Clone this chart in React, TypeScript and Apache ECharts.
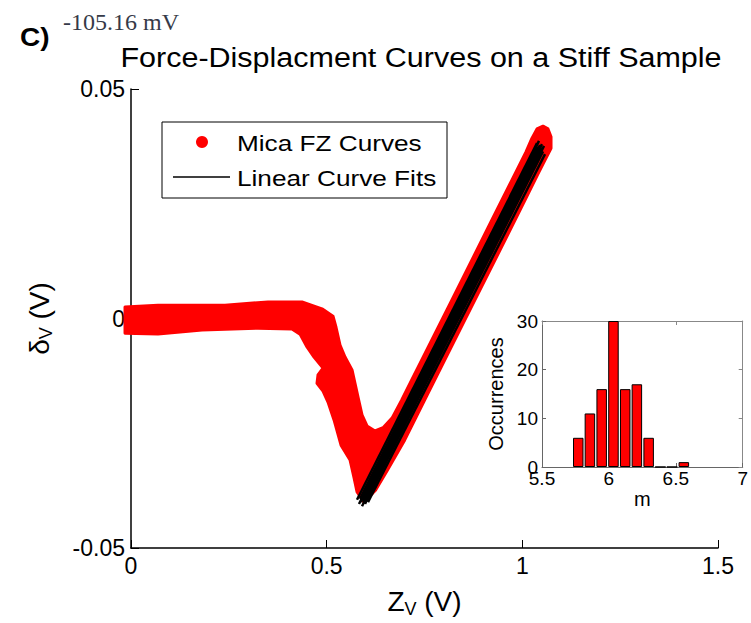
import React, { useEffect, useRef } from "react";
import * as echarts from "echarts";

// Outline of the red band formed by the overlaid mica FZ curves (Z_V, delta_V)
const bandZ = [
  -0.0153, 0.069, 0.1559, 0.2402, 0.3501, 0.437, 0.4881, 0.5162, 0.5239, 0.5341,
  0.5469, 0.5648, 0.5724, 0.5801, 0.5903, 0.6031, 0.6235, 0.644, 0.667, 0.6915,
  0.7173, 0.7684, 0.8198, 0.8709, 0.9222, 0.9736, 1.0094, 1.0247, 1.0375, 1.0528,
  1.0656, 1.0733, 1.0733, 1.0579, 1.0388, 1.0068, 0.9429, 0.8786, 0.8144, 0.7503,
  0.6992, 0.6555, 0.6248, 0.5954, 0.5776, 0.5699, 0.5597, 0.5367, 0.5188, 0.5034,
  0.4907, 0.4753, 0.4779, 0.4907, 0.4677, 0.4498, 0.4319, 0.4114, 0.3246, 0.1814,
  0.069, -0.0153,
];
const bandD = [
  0.0025, 0.0029, 0.0029, 0.0029, 0.0036, 0.0036, 0.0021, 0.0005, -0.0019, -0.0058,
  -0.0084, -0.0112, -0.0141, -0.0171, -0.021, -0.0234, -0.0245, -0.0238, -0.0217, -0.0178,
  -0.0134, -0.0047, 0.004, 0.0127, 0.0215, 0.0302, 0.0363, 0.0393, 0.0413, 0.0419,
  0.0413, 0.0396, 0.0371, 0.0345, 0.0313, 0.0258, 0.0149, 0.004, -0.0069, -0.0178,
  -0.0265, -0.033, -0.0374, -0.04, -0.0378, -0.0347, -0.0308, -0.0276, -0.0221, -0.0182,
  -0.0158, -0.0141, -0.0123, -0.0108, -0.0084, -0.0062, -0.0034, -0.0023, -0.0021, -0.0025,
  -0.0034, -0.0032,
];

// Linear curve fits: start and end points
const fitStartZ = [0.5775, 0.5826, 0.5852, 0.5903, 0.5928, 0.598, 0.6005, 0.6056, 0.5877, 0.5954];
const fitStartD = [-0.0395, -0.0404, -0.0393, -0.0409, -0.0398, -0.0404, -0.0393, -0.04, -0.04, -0.0402];
const fitEndZ = [1.0375, 1.04, 1.0426, 1.0477, 1.0502, 1.0528, 1.0554, 1.0579, 1.0452, 1.0502];
const fitEndD = [0.0382, 0.0374, 0.0387, 0.0369, 0.038, 0.0364, 0.0376, 0.0358, 0.0378, 0.0372];

// Inset histogram of slope m
const histBins = [5.771, 5.858, 5.946, 6.034, 6.122, 6.209, 6.297, 6.385, 6.472, 6.56];
const histCounts = [6, 11, 16, 30, 16, 17, 6, 0, 0, 1];

const FONT = "Liberation Sans, Arial, sans-serif";

export default function App() {
  const ref = useRef<HTMLDivElement>(null);

  useEffect(() => {
    if (!ref.current) return;
    const chart = echarts.init(ref.current, undefined, { renderer: "svg" });

    const fitSeries = fitStartZ.map((z, i) => ({
      type: "line",
      xAxisIndex: 0,
      yAxisIndex: 0,
      data: [
        [z, fitStartD[i]],
        [fitEndZ[i], fitEndD[i]],
      ],
      showSymbol: false,
      symbol: "none",
      silent: true,
      z: 3,
      lineStyle: { color: "#000", width: 2.5 },
    }));

    const nameRich = {
      a: { fontSize: 28, fontFamily: FONT, color: "#000", lineHeight: 30, verticalAlign: "top" },
      s: { fontSize: 18, fontFamily: FONT, color: "#000", lineHeight: 18, verticalAlign: "bottom", padding: [18, 0, 0, 0] },
    };

    const option: any = {
      animation: false,
      backgroundColor: "#ffffff",
      grid: [
        { left: 131, top: 89, width: 587, height: 459 },
        { left: 542, top: 321, width: 205, height: 146, z: 10 },
      ],
      xAxis: [
        {
          gridIndex: 0,
          type: "value",
          min: 0,
          max: 1.5,
          interval: 0.5,
          axisLine: { show: true, onZero: false, lineStyle: { color: "#000", width: 1.5 } },
          axisTick: { show: true, inside: true, length: 8, lineStyle: { color: "#000", width: 1 } },
          axisLabel: { fontSize: 23, color: "#000", margin: 6, fontFamily: FONT },
          splitLine: { show: false },
          name: "{a|Z}{s|V}{a| (V)}",
          nameLocation: "middle",
          nameGap: 36,
          nameTextStyle: { rich: nameRich },
        },
        {
          gridIndex: 1,
          type: "value",
          min: 5.5,
          max: 7,
          interval: 0.5,
          axisLine: { show: true, onZero: false, lineStyle: { color: "#666", width: 1 } },
          axisTick: { show: true, inside: true, length: 4, lineStyle: { color: "#666" } },
          axisLabel: { fontSize: 19, color: "#000", margin: 2, fontFamily: FONT },
          splitLine: { show: false },
          name: "m",
          nameLocation: "middle",
          nameGap: 22,
          nameTextStyle: { fontSize: 20, fontFamily: FONT, color: "#000" },
        },
        {
          gridIndex: 1,
          type: "value",
          position: "top",
          min: 5.5,
          max: 7,
          interval: 0.5,
          axisLine: { show: true, onZero: false, lineStyle: { color: "#888", width: 1 } },
          axisTick: { show: true, inside: true, length: 4, lineStyle: { color: "#888" } },
          axisLabel: { show: false },
          splitLine: { show: false },
        },
      ],
      yAxis: [
        {
          gridIndex: 0,
          type: "value",
          min: -0.05,
          max: 0.05,
          interval: 0.05,
          axisLine: { show: true, onZero: false, lineStyle: { color: "#000", width: 1.5 } },
          axisTick: { show: true, inside: true, length: 8, lineStyle: { color: "#000", width: 1 } },
          axisLabel: { fontSize: 23, color: "#000", margin: 6, fontFamily: FONT },
          splitLine: { show: false },
          name: "{a|\u03b4}{s|V}{a| (V)}",
          nameLocation: "middle",
          nameGap: 76,
          nameTextStyle: { rich: nameRich },
        },
        {
          gridIndex: 1,
          type: "value",
          min: 0,
          max: 30,
          interval: 10,
          axisLine: { show: true, onZero: false, lineStyle: { color: "#666", width: 1 } },
          axisTick: { show: true, inside: true, length: 4, lineStyle: { color: "#666" } },
          axisLabel: { fontSize: 19, color: "#000", margin: 4, fontFamily: FONT },
          splitLine: { show: false },
          name: "Occurrences",
          nameLocation: "middle",
          nameGap: 36,
          nameTextStyle: { fontSize: 20, fontFamily: FONT, color: "#000" },
        },
        {
          gridIndex: 1,
          type: "value",
          position: "right",
          min: 0,
          max: 30,
          interval: 10,
          axisLine: { show: true, onZero: false, lineStyle: { color: "#888", width: 1 } },
          axisTick: { show: true, inside: true, length: 4, lineStyle: { color: "#888" } },
          axisLabel: { show: false },
          splitLine: { show: false },
        },
      ],
      series: [
        {
          type: "custom",
          name: "Mica FZ Curves",
          xAxisIndex: 0,
          yAxisIndex: 0,
          coordinateSystem: "cartesian2d",
          clip: false,
          silent: true,
          z: 2,
          data: bandZ.map((z, i) => [z, bandD[i]]),
          renderItem: (params: any, api: any) => {
            if (params.dataIndex !== 0) return { type: "group", children: [] };
            const pts = bandZ.map((z, i) => api.coord([z, bandD[i]]));
            return {
              type: "polygon",
              shape: { points: pts },
              style: { fill: "#ff0000", stroke: "#ff0000", lineWidth: 3, lineJoin: "round" },
            };
          },
        },
        ...fitSeries,
        {
          type: "bar",
          xAxisIndex: 1,
          yAxisIndex: 1,
          barWidth: 10.5,
          silent: true,
          z: 12,
          data: histBins.map((b, i) => [b, histCounts[i]]),
          itemStyle: { color: "#ff0000", borderColor: "#000", borderWidth: 1 },
        },
      ],
      graphic: [
        {
          type: "text",
          x: 20,
          y: 38,
          scaleX: 1.12,
          z: 100,
          style: { text: "C)", font: `bold 25px ${FONT}`, fill: "#000", textAlign: "left", textVerticalAlign: "middle" },
        },
        {
          type: "text",
          x: 63,
          y: 22,
          z: 100,
          style: { text: "-105.16 mV", font: "24px 'Liberation Serif', 'Times New Roman', serif", fill: "#363a48", textAlign: "left", textVerticalAlign: "middle" },
        },
        {
          type: "text",
          x: 421,
          y: 57,
          scaleX: 1.09,
          z: 100,
          style: { text: "Force-Displacment Curves on a Stiff Sample", font: `28px ${FONT}`, fill: "#000", textAlign: "center", textVerticalAlign: "middle" },
        },
        {
          type: "group",
          z: 100,
          children: [
            {
              type: "rect",
              shape: { x: 162, y: 122, width: 285, height: 76 },
              style: { fill: "#fff", stroke: "#000", lineWidth: 1 },
            },
            {
              type: "circle",
              shape: { cx: 202, cy: 142, r: 6 },
              style: { fill: "#ff0000" },
            },
            {
              type: "line",
              shape: { x1: 173, y1: 177, x2: 230, y2: 177 },
              style: { stroke: "#000", lineWidth: 1.5 },
            },
            {
              type: "text",
              x: 237,
              y: 143,
              scaleX: 1.19,
              style: { text: "Mica FZ Curves", font: `22px ${FONT}`, fill: "#000", textAlign: "left", textVerticalAlign: "middle" },
            },
            {
              type: "text",
              x: 237,
              y: 178,
              scaleX: 1.19,
              style: { text: "Linear Curve Fits", font: `22px ${FONT}`, fill: "#000", textAlign: "left", textVerticalAlign: "middle" },
            },
          ],
        },
      ],
    };

    chart.setOption(option);
    return () => chart.dispose();
  }, []);

  return (
    <div
      ref={ref}
      style={{ position: "fixed", left: 0, top: 0, width: 751, height: 623, background: "#fff" }}
    />
  );
}
